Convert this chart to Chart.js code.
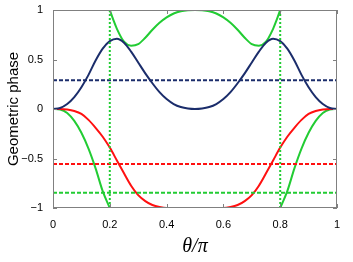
<!DOCTYPE html>
<html>
<head>
<meta charset="utf-8">
<script src="https://cdn.jsdelivr.net/npm/chart.js@4/dist/chart.umd.min.js"></script>
<style>
  html, body { margin: 0; padding: 0; background: #fff; }
  #wrap { width: 353px; height: 262px; }
</style>
</head>
<body>
<div id="wrap"><canvas id="phaseChart"></canvas></div>
<script>
// theta/pi samples
const thetaFull = [0, 0.025, 0.05, 0.075, 0.1, 0.125, 0.15, 0.175, 0.2, 0.225, 0.25, 0.275, 0.3, 0.325, 0.35, 0.375, 0.4, 0.425, 0.45, 0.475, 0.5,
  0.525, 0.55, 0.575, 0.6, 0.625, 0.65, 0.675, 0.7, 0.725, 0.75, 0.775, 0.8, 0.825, 0.85, 0.875, 0.9, 0.925, 0.95, 0.975, 1];
const bluePhase = [0, 0.01, 0.05, 0.12, 0.22, 0.345, 0.49, 0.61, 0.685, 0.71, 0.67, 0.58, 0.47, 0.36, 0.26, 0.17, 0.1, 0.05, 0.02, 0.005, 0,
  0.005, 0.02, 0.05, 0.1, 0.17, 0.26, 0.36, 0.47, 0.58, 0.67, 0.71, 0.685, 0.61, 0.49, 0.345, 0.22, 0.12, 0.05, 0.01, 0];
const redPhase = [0, 0, -0.005, -0.02, -0.05, -0.11, -0.19, -0.28, -0.39, -0.52, -0.65, -0.775, -0.87, -0.93, -0.97, -0.99, -1, -1, -1, -1, -1,
  -1, -1, -1, -1, -0.99, -0.97, -0.93, -0.87, -0.775, -0.65, -0.52, -0.39, -0.28, -0.19, -0.11, -0.05, -0.02, -0.005, 0, 0];

const thetaMid = [0.2, 0.2125, 0.225, 0.25, 0.275, 0.3, 0.325, 0.35, 0.375, 0.4, 0.425, 0.45, 0.475, 0.5,
  0.525, 0.55, 0.575, 0.6, 0.625, 0.65, 0.675, 0.7, 0.725, 0.75, 0.775, 0.7875, 0.8];
const greenUpper = [1, 0.9, 0.81, 0.68, 0.64, 0.655, 0.72, 0.8, 0.87, 0.925, 0.965, 0.988, 0.998, 1,
  0.998, 0.988, 0.965, 0.925, 0.87, 0.8, 0.72, 0.655, 0.64, 0.68, 0.81, 0.9, 1];

const thetaLeft = [0, 0.025, 0.05, 0.075, 0.1, 0.125, 0.15, 0.175, 0.2];
const greenLowerLeft = [0, -0.005, -0.04, -0.12, -0.24, -0.4, -0.6, -0.83, -1];
const thetaRight = [0.8, 0.825, 0.85, 0.875, 0.9, 0.925, 0.95, 0.975, 1];
const greenLowerRight = [-1, -0.83, -0.6, -0.4, -0.24, -0.12, -0.04, -0.005, 0];

// averages (dashed) and the branch points (dotted)
const blueAvg = 0.29;
const redAvg = -0.555;
const greenAvg = -0.845;
const branchTheta = [0.2, 0.8];

const xTicks = [0, 0.2, 0.4, 0.6, 0.8, 1];
const yTicks = [-1, -0.5, 0, 0.5, 1];

const navy = "#1b2d6b";
const green = "#22cc33";
const red = "#ff1010";

function pts(xs, ys) {
    return xs.map((x, i) => ({ x: x, y: ys[i] }));
}
function hline(v) {
    return [{ x: 0, y: v }, { x: 1, y: v }];
}
function vline(t) {
    return [{ x: t, y: -1 }, { x: t, y: 1 }];
}

function curve(data, color) {
    return { data: data, borderColor: color, borderWidth: 2, pointRadius: 0, cubicInterpolationMode: "monotone", fill: false };
}
function dashed(data, color, dash) {
    return { data: data, borderColor: color, borderWidth: 2, borderDash: dash, pointRadius: 0, fill: false };
}

function fmt(v) {
    return v < 0 ? "\u2212" + Math.abs(v) : String(v);
}

// matplotlib-style frame with inward ticks on all four sides
const framePlugin = {
    id: "frame",
    afterDraw(chart) {
        const ctx = chart.ctx;
        const a = chart.chartArea;
        const sx = chart.scales.x;
        const sy = chart.scales.y;
        ctx.save();
        ctx.strokeStyle = "#808080";
        ctx.lineWidth = 1;
        ctx.strokeRect(a.left + 0.5, a.top + 0.5, a.right - a.left - 1, a.bottom - a.top - 1);
        ctx.beginPath();
        xTicks.forEach(t => {
            const px = Math.round(sx.getPixelForValue(t)) + 0.5;
            ctx.moveTo(px, a.bottom); ctx.lineTo(px, a.bottom - 4);
            ctx.moveTo(px, a.top); ctx.lineTo(px, a.top + 4);
        });
        yTicks.forEach(t => {
            const py = Math.round(sy.getPixelForValue(t)) + 0.5;
            ctx.moveTo(a.left, py); ctx.lineTo(a.left + 4, py);
            ctx.moveTo(a.right, py); ctx.lineTo(a.right - 4, py);
        });
        ctx.stroke();
        ctx.restore();
    }
};

new Chart(document.getElementById("phaseChart"), {
    type: "line",
    data: {
        datasets: [
            dashed(vline(branchTheta[0]), green, [2, 2]),
            dashed(vline(branchTheta[1]), green, [2, 2]),
            dashed(hline(blueAvg), navy, [4, 2]),
            dashed(hline(redAvg), red, [4, 2]),
            dashed(hline(greenAvg), green, [4, 2]),
            curve(pts(thetaFull, bluePhase), navy),
            curve(pts(thetaFull, redPhase), red),
            curve(pts(thetaMid, greenUpper), green),
            curve(pts(thetaLeft, greenLowerLeft), green),
            curve(pts(thetaRight, greenLowerRight), green)
        ]
    },
    options: {
        responsive: true,
        maintainAspectRatio: false,
        animation: false,
        layout: { padding: { top: 10, right: 16, left: 0, bottom: 0 } },
        plugins: { legend: { display: false }, tooltip: { enabled: false } },
        scales: {
            x: {
                type: "linear",
                min: 0,
                max: 1,
                afterBuildTicks: s => { s.ticks = xTicks.map(v => ({ value: v })); },
                ticks: { color: "#000", font: { family: "Liberation Sans, Arial", size: 11 }, padding: 2, maxRotation: 0, callback: v => fmt(v) },
                grid: { display: false },
                border: { display: false },
                title: { display: true, text: "θ/π", color: "#000", font: { family: "Liberation Serif, serif", size: 20, style: "italic" }, padding: { top: 0, bottom: 3 } },
                afterFit: s => { s.height = 54; }
            },
            y: {
                min: -1,
                max: 1,
                afterBuildTicks: s => { s.ticks = yTicks.map(v => ({ value: v })); },
                ticks: { color: "#000", font: { family: "Liberation Sans, Arial", size: 11 }, padding: 2, callback: v => fmt(v) },
                grid: { display: false },
                border: { display: false },
                title: { display: true, text: "Geometric phase", color: "#000", font: { family: "Liberation Sans, Arial", size: 15 }, padding: { top: 5, bottom: 0 } },
                afterFit: s => { s.width = 53; }
            }
        }
    },
    plugins: [framePlugin]
});
</script>
</body>
</html>
